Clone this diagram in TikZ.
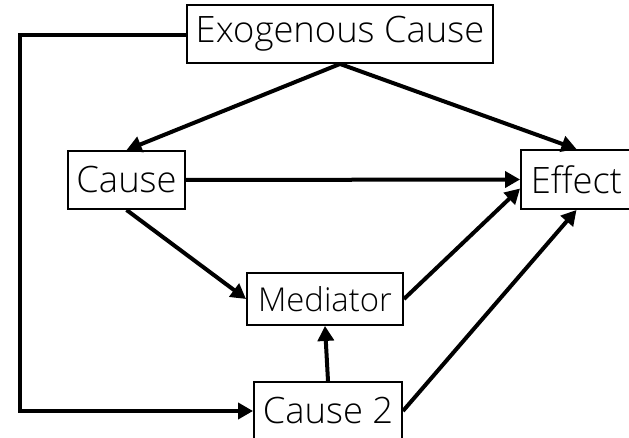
\documentclass[tikz,border=0pt]{standalone}
\usepackage{fontspec}
\setmainfont{Open Sans}[UprightFont={* Light}]
\usetikzlibrary{arrows.meta,calc}
\begin{document}
\begin{tikzpicture}[x=1bp,y=-1bp,
  box/.style={draw,line width=1.9bp,inner sep=0pt,align=center,font=\fontsize{36.5}{42}\selectfont},
  link/.style={line width=4bp,-{Triangle[length=15bp,width=16bp]}}]
\useasboundingbox (0,0) rectangle (629,438);
\clip (0,0) rectangle (629,438);
% variables
\node[box,minimum width=306bp,minimum height=58bp] (exo) at (340,34) {Exogenous Cause};
\node[box,minimum width=117bp,minimum height=58bp] (cause) at (126.5,180) {Cause};
\node[box,minimum width=111bp,minimum height=59bp] (effect) at (576.5,179.5) {Effect};
\node[box,minimum width=156bp,minimum height=52bp,font=\fontsize{33}{38}\selectfont] (med) at (325,299) {Mediator};
\node[box,minimum width=148bp,minimum height=58bp] (c2) at (328,411) {Cause 2};
% causal links
\draw[link] (exo.south) -- (cause.north);
\draw[link] (exo.south) -- (effect.north);
\draw[link] (cause.east) -- (effect.west);
\draw[link] (cause.south) -- (med.west);
\draw[link] (med.east) -- ($(effect.west)+(0,9)$);
\draw[link] (c2.east) -- (effect.south);
\draw[link] (c2.north) -- (med.south);
\coordinate (corner) at (20,35);
\draw[link] (exo.west |- corner) -- (corner) |- (c2.west);
\end{tikzpicture}
\end{document}
